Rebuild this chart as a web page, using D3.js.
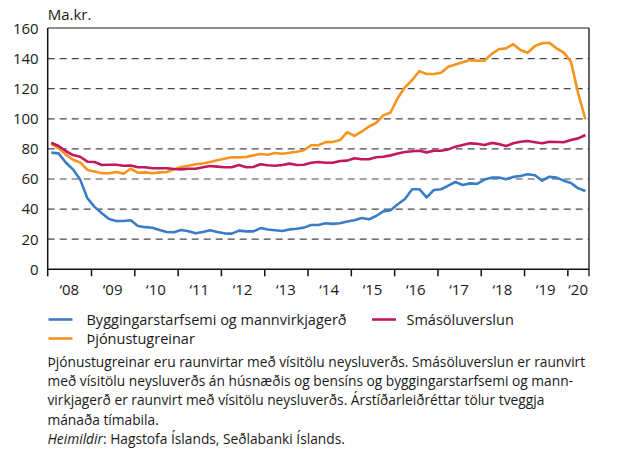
<!DOCTYPE html>
<html>
<head>
<meta charset="utf-8">
<script src="https://cdn.jsdelivr.net/npm/d3@7"></script>
<style>
  body { margin: 0; background: #fff; }
  text { font-family: "Open Sans", sans-serif; fill: #1a1a1a; }
</style>
</head>
<body>
<svg id="chart" width="629" height="450"></svg>
<script>
// two-month periods, Jan-Feb 2008 .. May-Jun 2020
const startYear = 2008
const periodsPerYear = 6

const yearLabels = ["‘08", "‘09", "‘10", "‘11", "‘12", "‘13", "‘14", "‘15", "‘16", "‘17", "‘18", "‘19", "‘20"]
const yTicks = [0, 20, 40, 60, 80, 100, 120, 140, 160]

// Byggingarstarfsemi og mannvirkjagerð
const byggingar = [
  77.5, 77, 71, 66.4, 59.6, 47.2, 41.5, 37.2, 33.4, 32.1,
  32.1, 32.6, 28.8, 28, 27.6, 26.1, 24.8, 24.6, 26.1, 25.3,
  23.9, 24.8, 25.9, 24.8, 23.9, 23.7, 25.7, 25.2, 25.2, 27.4,
  26.5, 25.9, 25.4, 26.5, 26.9, 27.7, 29.4, 29.4, 30.6, 30.2,
  30.6, 31.8, 32.6, 34.1, 33.2, 35.4, 38.5, 39.2, 43.2, 46.7,
  53.2, 53.2, 47.8, 52.7, 53.2, 55.6, 58, 56, 57.1, 56.8,
  59.6, 60.9, 61, 59.8, 61.4, 62, 63.2, 62.5, 58.9, 61.5,
  60.9, 58.9, 57.3, 53.8, 52
]
// Þjónustugreinar
const thjonusta = [
  83.5, 80.4, 76.3, 72.8, 71, 66, 65, 63.8, 63.8, 64.7,
  63.5, 66.8, 64.2, 64.4, 63.8, 64.4, 64.7, 66.5, 68, 68.8,
  69.8, 70.3, 71.3, 72.4, 73.5, 74.4, 74.4, 74.6, 75.7, 76.6,
  76.1, 77.3, 76.8, 77.5, 78.1, 79.1, 82.4, 82.4, 84.5, 84.6,
  85.9, 91.2, 88.6, 91.4, 94.9, 97.2, 102.3, 104.2, 113.8, 120.9,
  125.8, 131.7, 129.8, 129.8, 130.6, 134.6, 136, 137.5, 139, 138.6,
  138.6, 143, 146.2, 146.8, 149.6, 145.7, 143.9, 148.4, 150.2, 150.5,
  146.8, 144, 138, 116.9, 99.7
]
// Smásöluverslun
const smasala = [
  84.1, 81.9, 78.6, 75.9, 74.8, 71.5, 71.3, 69.3, 69.5, 69.5,
  68.8, 69, 67.8, 67.8, 67.1, 67.1, 67.1, 66.6, 66.4, 66.8,
  66.8, 67.8, 68.6, 68.2, 67.8, 67.8, 69.3, 67.8, 68, 69.8,
  69.1, 68.8, 69.3, 70.2, 69.3, 69.5, 70.8, 71.3, 70.8, 70.8,
  72, 72.2, 73.8, 73.1, 73.1, 74.4, 74.8, 75.7, 77, 77.9,
  78.4, 78.8, 77.7, 78.8, 78.8, 79.7, 81.5, 82.6, 83.7, 83.4,
  82.6, 84, 83.3, 81.9, 83.7, 84.8, 85.2, 84.4, 83.7, 84.8,
  84.6, 84.4, 85.9, 87, 89.2
]

const series = [
  { name: "Þjónustugreinar", values: thjonusta, color: "#f7941d" },
  { name: "Smásöluverslun", values: smasala, color: "#c2185f" },
  { name: "Byggingarstarfsemi og mannvirkjagerð", values: byggingar, color: "#3b7cc6" }
]

const footnote = [
  [["Þjónustugreinar eru raunvirtar með vísitölu neysluverðs. Smásöluverslun er raunvirt", false]],
  [["með vísitölu neysluverðs án húsnæðis og bensíns og byggingarstarfsemi og mann-", false]],
  [["virkjagerð er raunvirt með vísitölu neysluverðs. Árstíðarleiðréttar tölur tveggja", false]],
  [["mánaða tímabila.", false]],
  [["Heimildir", true], [": Hagstofa Íslands, Seðlabanki Íslands.", false]]
]

const drawChart = () => {
  const pLeft = 47.7, pRight = 589, pTop = 28, pBottom = 269.3
  const svg = d3.select("#chart")

  const x = d3.scaleLinear().domain([2008, 2020.5]).range([pLeft, pRight])
  const y = d3.scaleLinear().domain([0, 160]).range([pBottom, pTop + 0.5])
  const tOf = i => startYear + (i + 0.5) / periodsPerYear

  // gridlines
  svg.append("g")
    .selectAll("line")
    .data(yTicks.filter(d => d > 0 && d < 160))
    .join("line")
    .attr("x1", pLeft).attr("x2", pRight)
    .attr("y1", d => y(d)).attr("y2", d => y(d))
    .attr("stroke", "#4a4a4a")
    .attr("stroke-width", 1.2)
    .attr("stroke-dasharray", "7,5")

  // frame: top and right
  svg.append("line").attr("x1", pLeft).attr("x2", pRight).attr("y1", pTop).attr("y2", pTop)
    .attr("stroke", "#6a6a6a").attr("stroke-width", 1.5)
  svg.append("line").attr("x1", pRight).attr("x2", pRight).attr("y1", pTop).attr("y2", pBottom + 7)
    .attr("stroke", "#333").attr("stroke-width", 1.5)

  // y axis
  const yAxis = svg.append("g")
    .attr("transform", `translate(${pLeft},0)`)
    .call(d3.axisLeft(y).tickValues(yTicks).tickSize(0).tickPadding(9))
  yAxis.select(".domain").remove()
  yAxis.selectAll("text").attr("font-size", 15).attr("font-family", "Open Sans, sans-serif").attr("fill", "#1a1a1a")
  svg.append("line").attr("x1", pLeft).attr("x2", pLeft).attr("y1", pTop).attr("y2", pBottom + 7)
    .attr("stroke", "#111").attr("stroke-width", 1.5)

  // x axis: ticks at year boundaries, labels between them
  const xAxis = svg.append("g")
    .attr("transform", `translate(0,${pBottom})`)
    .call(d3.axisBottom(x).tickValues(d3.range(2009, 2021)).tickSize(7).tickFormat(""))
  xAxis.select(".domain").attr("stroke", "#111").attr("stroke-width", 1.5).attr("d", `M${pLeft},0H${pRight}`)
  xAxis.selectAll(".tick line").attr("stroke", "#111").attr("stroke-width", 1.5)

  svg.append("g")
    .selectAll("text")
    .data(yearLabels)
    .join("text")
    .attr("x", (d, i) => i === yearLabels.length - 1 ? x(2020.25) : x(2008.5 + i))
    .attr("y", pBottom + 26)
    .attr("text-anchor", "middle")
    .attr("font-size", 15)
    .text(d => d)

  svg.append("text").attr("x", pLeft).attr("y", 20).attr("font-size", 15).text("Ma.kr.")

  // lines
  const line = d3.line().x((d, i) => x(tOf(i))).y(d => y(d))
  svg.append("g")
    .selectAll("path")
    .data(series)
    .join("path")
    .attr("d", d => line(d.values))
    .attr("fill", "none")
    .attr("stroke", d => d.color)
    .attr("stroke-width", 2.6)
    .attr("stroke-linejoin", "round")

  // legend
  const legendItems = [
    { s: series[2], lx: 48.5, ly: 319.5, tx: 86.5 },
    { s: series[0], lx: 48.5, ly: 338.5, tx: 86.5 },
    { s: series[1], lx: 372, ly: 319.5, tx: 406.5 }
  ]
  const lg = svg.append("g")
  legendItems.forEach(it => {
    lg.append("line").attr("x1", it.lx).attr("x2", it.lx + 24).attr("y1", it.ly).attr("y2", it.ly)
      .attr("stroke", it.s.color).attr("stroke-width", 2.6)
    lg.append("text").attr("x", it.tx).attr("y", it.ly + 5).attr("font-size", 14.5).text(it.s.name)
  })

  // footnote
  const fn = svg.append("g")
  footnote.forEach((parts, r) => {
    const t = fn.append("text").attr("x", 47.5).attr("y", 366.5 + r * 19.4).attr("font-size", 13.75)
    parts.forEach(([txt, it]) => t.append("tspan").attr("font-style", it ? "italic" : "normal").text(txt))
  })
}

drawChart()
</script>
</body>
</html>
